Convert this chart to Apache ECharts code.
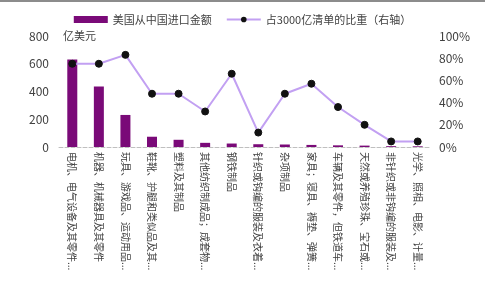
<!DOCTYPE html>
<html>
<head>
<meta charset="utf-8">
<script src="https://cdn.jsdelivr.net/npm/echarts@6/dist/echarts.min.js"></script>
<style>
  html, body { margin: 0; padding: 0; background: #fff; }
  #chart { width: 485px; height: 296px; }
</style>
</head>
<body>
<div id="chart"></div>
<script>
const categories = [
  '电机、电气设备及其零件；录音机',
  '机器、机械器具及其零件',
  '玩具、游戏品、运动用品及其零件',
  '鞋靴、护腿和类似品及其零件',
  '塑料及其制品',
  '其他纺织制成品；成套物品',
  '钢铁制品',
  '针织或钩编的服装及衣着附件',
  '杂项制品',
  '家具；寝具、褥垫、弹簧床垫',
  '车辆及其零件，但铁道车辆除外',
  '天然或养殖珍珠、宝石或半宝石',
  '非针织或非钩编的服装及衣着附件',
  '光学、照相、电影、计量仪器'
];
const importValues = [630, 436, 231, 74, 52, 30, 25, 20, 18, 15, 12, 10, 6, 5];
const shareValues = [75, 75, 83, 48, 48, 32, 66, 13, 48, 57, 36, 20, 5, 5];
const leftTicks = [0, 200, 400, 600, 800];
const rightTicks = [0, 20, 40, 60, 80, 100];

const chart = echarts.init(document.getElementById('chart'));
const font = '"Noto Sans CJK SC", "Noto Sans", sans-serif';

chart.setOption({
  animation: false,
  textStyle: { fontFamily: font },
  graphic: [{
    type: 'line',
    shape: { x1: 0, y1: 1, x2: 485, y2: 1 },
    style: { stroke: '#8c8c8c', lineWidth: 2 }
  }],
  legend: {
    top: 9,
    left: 'center',
    itemGap: 14,
    itemWidth: 34,
    itemHeight: 7,
    textStyle: { fontSize: 11, color: '#404040', fontFamily: font },
    data: [
      { name: '美国从中国进口金额', icon: 'rect' },
      { name: '占3000亿清单的比重（右轴）' }
    ]
  },
  grid: { left: 59, right: 54, top: 36, bottom: 149, containLabel: false },
  xAxis: {
    type: 'category',
    data: categories,
    axisTick: { show: false },
    axisLine: { lineStyle: { color: '#bfbfbf', type: 'dashed' } },
    axisLabel: {
      rotate: -90,
      interval: 0,
      fontSize: 10,
      color: '#404040',
      margin: 5,
      width: 120,
      overflow: 'truncate',
      fontFamily: font
    }
  },
  yAxis: [{
    type: 'value',
    min: leftTicks[0],
    max: leftTicks[leftTicks.length - 1],
    interval: 200,
    name: '亿美元',
    nameLocation: 'end',
    nameGap: 0,
    nameTextStyle: { align: 'left', verticalAlign: 'middle', padding: [0, 0, 10, 4], fontSize: 11, color: '#404040' },
    splitLine: { show: false },
    axisLine: { show: false },
    axisTick: { show: false },
    axisLabel: { fontSize: 12, color: '#404040', margin: 10 }
  }, {
    type: 'value',
    min: rightTicks[0],
    max: rightTicks[rightTicks.length - 1],
    interval: 20,
    splitLine: { show: false },
    axisLine: { show: false },
    axisTick: { show: false },
    axisLabel: { fontSize: 12, color: '#404040', margin: 8, formatter: '{value}%' }
  }],
  series: [{
    name: '美国从中国进口金额',
    type: 'bar',
    data: importValues,
    barWidth: 10,
    itemStyle: { color: '#7a0a78' }
  }, {
    name: '占3000亿清单的比重（右轴）',
    type: 'line',
    yAxisIndex: 1,
    data: shareValues,
    symbol: 'circle',
    symbolSize: 7,
    lineStyle: { color: '#c2a0f2', width: 2 },
    itemStyle: { color: '#111', borderColor: '#111' }
  }]
});
</script>
</body>
</html>
